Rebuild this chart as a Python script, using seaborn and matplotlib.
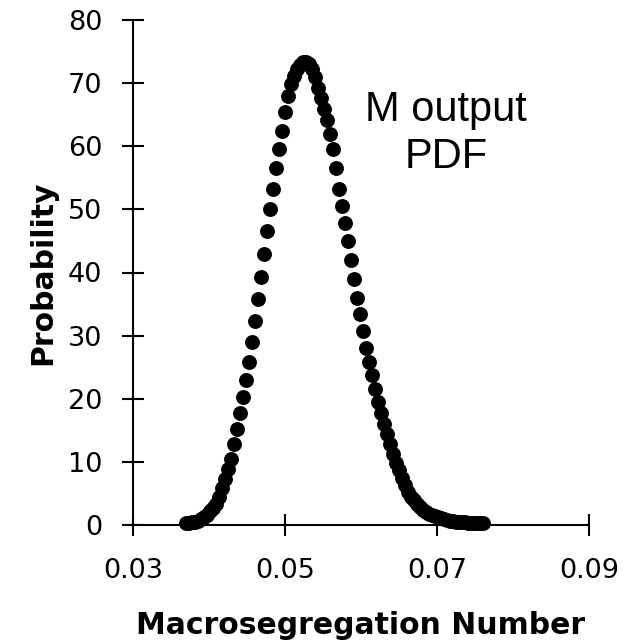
import numpy as np
import pandas as pd
import matplotlib
matplotlib.use("Agg")
import matplotlib.pyplot as plt
import seaborn as sns

# --- data ---
macroseg_number = [
    0.03700, 0.03739, 0.03779, 0.03818, 0.03858, 0.03897, 0.03936, 0.03976, 0.04015, 0.04055,
    0.04094, 0.04133, 0.04173, 0.04212, 0.04252, 0.04291, 0.04330, 0.04370, 0.04409, 0.04449,
    0.04488, 0.04527, 0.04567, 0.04606, 0.04646, 0.04685, 0.04724, 0.04764, 0.04803, 0.04843,
    0.04882, 0.04921, 0.04961, 0.05000, 0.05040, 0.05079, 0.05118, 0.05158, 0.05197, 0.05237,
    0.05276, 0.05315, 0.05355, 0.05394, 0.05434, 0.05473, 0.05512, 0.05552, 0.05591, 0.05631,
    0.05670, 0.05709, 0.05749, 0.05788, 0.05828, 0.05867, 0.05906, 0.05946, 0.05985, 0.06025,
    0.06064, 0.06103, 0.06143, 0.06182, 0.06222, 0.06261, 0.06300, 0.06340, 0.06379, 0.06419,
    0.06458, 0.06497, 0.06537, 0.06576, 0.06616, 0.06655, 0.06694, 0.06734, 0.06773, 0.06813,
    0.06852, 0.06891, 0.06931, 0.06970, 0.07010, 0.07049, 0.07088, 0.07128, 0.07167, 0.07207,
    0.07246, 0.07285, 0.07325, 0.07364, 0.07404, 0.07443, 0.07482, 0.07522, 0.07561, 0.07601,
]
probability = [
    0.30, 0.35, 0.42, 0.52, 0.68, 0.95, 1.25, 1.65, 2.15, 2.75,
    3.40, 4.50, 5.80, 7.30, 8.90, 10.4, 12.8, 15.2, 17.7, 20.3,
    23.0, 25.9, 29.0, 32.3, 35.8, 39.3, 42.9, 46.5, 50.0, 53.3,
    56.5, 59.5, 62.4, 65.4, 67.9, 69.8, 71.2, 72.3, 72.9, 73.3,
    73.4, 73.1, 72.2, 70.9, 69.3, 67.6, 65.9, 64.1, 61.9, 59.5,
    56.5, 53.3, 50.6, 47.9, 45.0, 42.0, 39.0, 36.0, 33.4, 30.8,
    28.0, 25.8, 23.8, 21.6, 19.5, 17.7, 16.0, 14.4, 12.8, 11.2,
    9.90, 8.70, 7.50, 6.40, 5.30, 4.50, 3.90, 3.30, 2.85, 2.45,
    2.10, 1.80, 1.55, 1.35, 1.20, 1.05, 0.92, 0.80, 0.70, 0.62,
    0.55, 0.50, 0.46, 0.42, 0.38, 0.35, 0.32, 0.30, 0.28, 0.27,
]
x_ticks = [0.03, 0.05, 0.07, 0.09]
x_tick_labels = ["0.03", "0.05", "0.07", "0.09"]
y_ticks = [0, 10, 20, 30, 40, 50, 60, 70, 80]
y_tick_labels = ["0", "10", "20", "30", "40", "50", "60", "70", "80"]
x_label = "Macrosegregation Number"
y_label = "Probability"
annotation = "M output\nPDF"

df = pd.DataFrame({"M": macroseg_number, "P": probability})

sns.set_style("white")
plt.rcParams["font.family"] = ["DejaVu Sans"]
plt.rcParams["text.color"] = "black"
plt.rcParams["axes.labelcolor"] = "black"

fig = plt.figure(figsize=(6.27, 6.40), dpi=100)
ax = fig.add_axes([133 / 627, 1 - 525 / 640, (589 - 133) / 627, (525 - 20) / 640])

sns.scatterplot(data=df, x="M", y="P", ax=ax, color="black", s=115,
                linewidth=0, legend=False, clip_on=False, zorder=3)

ax.set_xlim(0.03, 0.09)
ax.set_ylim(0, 80)
ax.set_xticks(x_ticks)
ax.set_xticklabels(x_tick_labels)
ax.set_yticks(y_ticks)
ax.set_yticklabels(y_tick_labels)

for side in ["top", "right"]:
    ax.spines[side].set_visible(False)
for side in ["left", "bottom"]:
    ax.spines[side].set_color("black")
    ax.spines[side].set_linewidth(1.5)

ax.tick_params(axis="x", which="major", bottom=True, top=False,
               direction="inout", length=16, width=1.5,
               color="black", labelcolor="black", labelsize=19.5, pad=16)
ax.tick_params(axis="y", which="major", left=True, right=False,
               direction="inout", length=16, width=1.5,
               color="black", labelcolor="black", labelsize=19.5, pad=14)

ax.set_xlabel(x_label, fontsize=21.5, fontweight="bold", labelpad=19, color="black")
ax.set_ylabel(y_label, fontsize=21.5, fontweight="bold", labelpad=8, color="black")

fig.text(445.8 / 627, 1 - 133.5 / 640, annotation, ha="center", va="center",
         fontsize=30, color="black",
         family=["Liberation Sans", "DejaVu Sans"], linespacing=1.2)

fig.savefig("out.png", dpi=100)
